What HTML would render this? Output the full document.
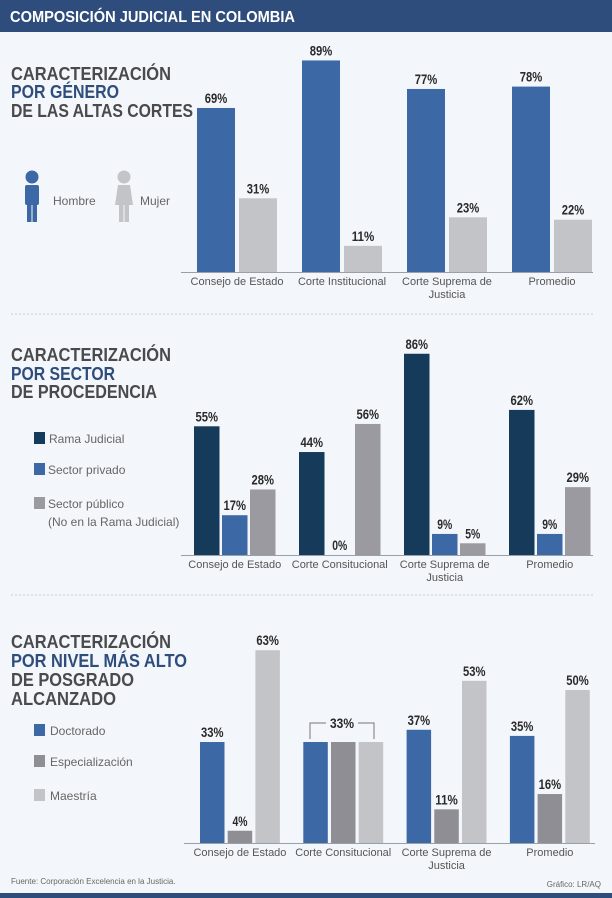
<!DOCTYPE html>
<html><head><meta charset="utf-8"><style>
html,body{margin:0;padding:0;background:#f3f6fa;}
svg{display:block;font-family:"Liberation Sans",sans-serif;}
</style></head><body>
<svg id="root" width="612" height="898" viewBox="0 0 612 898">
<rect x="0" y="0" width="612" height="898" fill="#f3f6fa"/>
<rect x="0" y="0" width="612" height="32" fill="#2f4d7c"/>
<text x="10" y="22" fill="#fff" font-size="16" font-weight="bold" textLength="285" lengthAdjust="spacingAndGlyphs">COMPOSICIÓN JUDICIAL EN COLOMBIA</text>

<g font-weight="bold" font-size="18">
<text x="11" y="80" fill="#4a4a4c" textLength="160" lengthAdjust="spacingAndGlyphs">CARACTERIZACIÓN</text>
<text x="11" y="98" fill="#2f4d7c" textLength="108" lengthAdjust="spacingAndGlyphs">POR GÉNERO</text>
<text x="11" y="117" fill="#4a4a4c" textLength="182" lengthAdjust="spacingAndGlyphs">DE LAS ALTAS CORTES</text>
</g>
<g>
<circle cx="32" cy="177" r="6.5" fill="#3c68a6"/>
<rect x="25" y="185" width="14" height="20" rx="2" fill="#3c68a6"/>
<rect x="27" y="203" width="4.5" height="19" fill="#3c68a6"/><rect x="32.5" y="203" width="4.5" height="19" fill="#3c68a6"/>
<text x="53" y="205" font-size="12" fill="#666">Hombre</text>
</g>
<g>
<circle cx="124" cy="177" r="6.5" fill="#c3c4c8"/>
<path d="M118 185 H130 L133 205 H115 Z" fill="#c3c4c8"/>
<rect x="119" y="203" width="4.5" height="19" fill="#c3c4c8"/><rect x="124.5" y="203" width="4.5" height="19" fill="#c3c4c8"/>
<text x="140" y="205" font-size="12" fill="#666">Mujer</text>
</g>

<line x1="11" y1="314" x2="593" y2="314" stroke="#c8ccd2" stroke-dasharray="2,2"/>

<g font-weight="bold" font-size="18">
<text x="11" y="361" fill="#4a4a4c" textLength="160" lengthAdjust="spacingAndGlyphs">CARACTERIZACIÓN</text>
<text x="11" y="380" fill="#2f4d7c" textLength="104" lengthAdjust="spacingAndGlyphs">POR SECTOR</text>
<text x="11" y="398" fill="#4a4a4c" textLength="146" lengthAdjust="spacingAndGlyphs">DE PROCEDENCIA</text>
</g>
<g font-size="12" fill="#666">
<rect x="34" y="432" width="11" height="12" fill="#163a5a"/><text x="49" y="443">Rama Judicial</text>
<rect x="34" y="463" width="11" height="12" fill="#3c68a6"/><text x="48" y="474">Sector privado</text>
<rect x="34" y="497" width="11" height="12" fill="#9a9aa0"/><text x="48" y="508">Sector público</text>
<text x="48" y="526">(No en la Rama Judicial)</text>
</g>

<line x1="11" y1="595" x2="593" y2="595" stroke="#c8ccd2" stroke-dasharray="2,2"/>

<g font-weight="bold" font-size="18">
<text x="11" y="648" fill="#4a4a4c" textLength="160" lengthAdjust="spacingAndGlyphs">CARACTERIZACIÓN</text>
<text x="11" y="667" fill="#2f4d7c" textLength="176" lengthAdjust="spacingAndGlyphs">POR NIVEL MÁS ALTO</text>
<text x="11" y="686" fill="#4a4a4c" textLength="123" lengthAdjust="spacingAndGlyphs">DE POSGRADO</text>
<text x="11" y="705" fill="#4a4a4c" textLength="105" lengthAdjust="spacingAndGlyphs">ALCANZADO</text>
</g>
<g font-size="12" fill="#666">
<rect x="34" y="724" width="11" height="12" fill="#3c68a6"/><text x="50" y="735">Doctorado</text>
<rect x="34" y="755" width="11" height="12" fill="#8e8e94"/><text x="50" y="766">Especialización</text>
<rect x="34" y="789" width="11" height="12" fill="#c3c4c8"/><text x="50" y="800">Maestría</text>
</g>

<text x="11" y="884" font-size="8" fill="#666">Fuente: Corporación Excelencia en la Justicia.</text>
<text x="601" y="887" font-size="8" fill="#666" text-anchor="end">Gráfico: LR/AQ</text>
<rect x="0" y="893" width="612" height="5" fill="#2f4d7c"/>
</svg>
<script>
const categories1 = ["Consejo de Estado","Corte Institucional","Corte Suprema de|Justicia","Promedio"];
const hombre = [69, 89, 77, 78];
const mujer = [31, 11, 23, 22];
const categories2 = ["Consejo de Estado","Corte Consitucional","Corte Suprema de|Justicia","Promedio"];
const ramaJudicial = [55, 44, 86, 62];
const sectorPrivado = [17, 0, 9, 9];
const sectorPublico = [28, 56, 5, 29];
const categories3 = ["Consejo de Estado","Corte Consitucional","Corte Suprema de|Justicia","Promedio"];
const doctorado = [33, 33, 37, 35];
const especializacion = [4, 33, 11, 16];
const maestria = [63, 33, 53, 50];

const NS = "http://www.w3.org/2000/svg";
const root = document.getElementById("root");
function mk(tag, attrs, parent){const e=document.createElementNS(NS,tag);for(const k in attrs)e.setAttribute(k,attrs[k]);(parent||root).appendChild(e);return e;}

function chart(opts){
  const g = mk("g",{});
  
  
  const y = v => opts.base - v*opts.scale;
  const line = mk("line",{x1:opts.axisX0,x2:opts.axisX1,y1:opts.base+0.5,y2:opts.base+0.5,stroke:"#9aa0a8","stroke-width":1},g);
  
  
  opts.cats.forEach((c,i)=>{
    const gx = opts.x0 + i*opts.step;
    opts.series.forEach((s,j)=>{
      const v = s.data[i];
      const bx = gx + j*opts.sstep;
      const r = mk("rect",{x:bx,y:y(v),width:opts.bw,height:v*opts.scale,fill:s.color},g);
      
      
      if(!(opts.skipLabel && opts.skipLabel(i))){
        const t = mk("text",{x:bx+opts.bw/2,y:y(v)-5,"text-anchor":"middle","font-size":14,"font-weight":"bold",fill:"#2a2a2a",textLength:(String(v).length+1)*7.5,lengthAdjust:"spacingAndGlyphs"},g);
        t.textContent = v+"%";
        
        
      }
    });
    const cx = gx + ((opts.series.length-1)*opts.sstep + opts.bw)/2;
    c.split("|").forEach((ln,k)=>{
      const t = mk("text",{x:cx,y:opts.base+13+k*13,"text-anchor":"middle","font-size":11,fill:"#555"},g);
      t.textContent = ln;
      
      
    });
  });
  return {g,y};
}

chart({name:"chart-genero",cats:categories1,base:272,scale:2.377,x0:197,step:105,sstep:42,bw:38,axisX0:181,axisX1:593,
  series:[{key:"hombre",data:hombre,color:"#3c68a6"},{key:"mujer",data:mujer,color:"#c3c4c8"}]});
chart({name:"chart-sector",cats:categories2,base:555,scale:2.34,x0:194,step:105,sstep:28,bw:25.5,axisX0:181,axisX1:593,
  series:[{key:"rama",data:ramaJudicial,color:"#163a5a"},{key:"privado",data:sectorPrivado,color:"#3c68a6"},{key:"publico",data:sectorPublico,color:"#9a9aa0"}]});
const c3 = chart({name:"chart-posgrado",cats:categories3,base:843,scale:3.06,x0:200,step:103.3,sstep:27.7,bw:24.5,axisX0:184,axisX1:595,
  series:[{key:"doctorado",data:doctorado,color:"#3c68a6"},{key:"especializacion",data:especializacion,color:"#8e8e94"},{key:"maestria",data:maestria,color:"#c3c4c8"}],
  skipLabel:i=>i===1});
// bracket label for Corte Constitucional group
const topV = Math.max(doctorado[1],especializacion[1],maestria[1]);
const by = c3.y(topV) - 19;
const br = mk("path",{d:`M310 ${by+16} V${by} H326 M358 ${by} H374 V${by+16}`,fill:"none",stroke:"#777","stroke-width":1},c3.g);


const bt = mk("text",{x:342,y:by+5,"text-anchor":"middle","font-size":14,"font-weight":"bold",fill:"#2a2a2a",textLength:24,lengthAdjust:"spacingAndGlyphs"},c3.g);
bt.textContent = doctorado[1]+"%";


</script>
</body></html>
